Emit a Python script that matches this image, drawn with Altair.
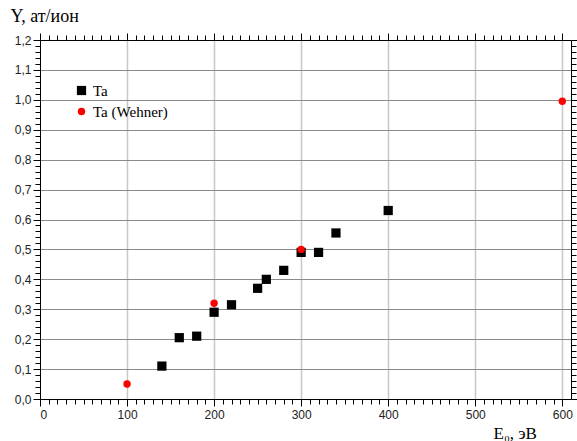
import altair as alt
import pandas as pd

ta_e = [140, 160, 180, 200, 220, 250, 260, 280, 300, 320, 340, 400]
ta_y = [0.11, 0.205, 0.21, 0.29, 0.315, 0.37, 0.40, 0.43, 0.49, 0.49, 0.555, 0.63]
wehner_e = [100, 200, 300, 600]
wehner_y = [0.05, 0.32, 0.50, 0.995]
series_names = ["Ta", "Ta (Wehner)"]
x_ticks = list(range(0, 601, 10))
y_ticks = [round(i * 0.02, 2) for i in range(0, 61)]

df = pd.DataFrame({
    "E": ta_e + wehner_e,
    "Y": ta_y + wehner_y,
    "s": [series_names[0]] * len(ta_e) + [series_names[1]] * len(wehner_e),
})

xmaj = "datum.value % 100 === 0"
ymaj = "abs(datum.value * 10 - round(datum.value * 10)) < 0.001"

xscale = alt.Scale(domain=[0, 610], nice=False, zero=False)
yscale = alt.Scale(domain=[0, 1.2], nice=False, zero=False)

lab_font = "Liberation Sans"
ser_font = "Liberation Serif"

leg = alt.Legend(title=None, orient="none", legendX=34, legendY=43,
                 labelFont=ser_font, labelFontSize=15, labelColor="black",
                 symbolSize=45, rowPadding=5, symbolStrokeWidth=0, labelOffset=4)

main = alt.Chart(df).mark_point(filled=True, opacity=1).encode(
    x=alt.X("E:Q", scale=xscale, axis=alt.Axis(
        values=x_ticks, orient="bottom",
        labelExpr=xmaj + " ? datum.label : ''",
        labelFont=lab_font, labelFontSize=12, labelColor="#222", labelPadding=3,
        tickSize={"condition": {"test": xmaj, "value": 7}, "value": 5},
        tickColor="black", domainColor="black",
        grid=True, gridColor="#c8c8c8", gridWidth=1.5,
        gridOpacity={"condition": {"test": xmaj + " && datum.value > 0", "value": 1}, "value": 0},
        title="E₀, эВ", titleFont=ser_font, titleFontSize=17, titleFontWeight="normal",
        titleColor="black", titleAnchor="start", titleAlign="left", titleBaseline="alphabetic",
        titleX=453, titleY=39,
    )),
    y=alt.Y("Y:Q", scale=yscale, axis=alt.Axis(
        values=y_ticks, orient="left",
        labelExpr=ymaj + " ? replace(format(datum.value, '.1f'), '.', ',') : ''",
        labelFont=lab_font, labelFontSize=12, labelColor="#222", labelPadding=2,
        tickSize={"condition": {"test": ymaj, "value": 7}, "value": 5},
        tickColor="black", domainColor="black",
        grid=True, gridColor="#8a8a8a", gridWidth=1.2,
        gridOpacity={"condition": {"test": ymaj + " && datum.value > 0", "value": 1}, "value": 0},
        title="Y, ат/ион", titleFont=ser_font, titleFontSize=18, titleFontWeight="normal",
        titleColor="black", titleAngle=0, titleAlign="left", titleBaseline="alphabetic",
        titleX=-30, titleY=-19,
    )),
    color=alt.Color("s:N", scale=alt.Scale(domain=series_names, range=["black", "#ff0000"]),
                    legend=leg),
    shape=alt.Shape("s:N", scale=alt.Scale(domain=series_names, range=["square", "circle"]),
                    legend=leg),
    size=alt.Size("s:N", scale=alt.Scale(domain=series_names, range=[85, 55]), legend=None),
)

mirror = alt.Chart(df).mark_point(opacity=0).encode(
    x=alt.X("E:Q", scale=xscale, axis=alt.Axis(
        values=x_ticks, orient="top", labels=False, title=None, grid=False,
        tickSize={"condition": {"test": xmaj, "value": 7}, "value": 5},
        tickColor="black", domainColor="black")),
    y=alt.Y("Y:Q", scale=yscale, axis=alt.Axis(
        values=y_ticks, orient="right", labels=False, title=None, grid=False,
        tickSize={"condition": {"test": ymaj, "value": 7}, "value": 5},
        tickColor="black", domainColor="black")),
)

chart = alt.layer(main, mirror).resolve_axis(x="independent", y="independent").properties(
    width=531, height=359,
    autosize=alt.AutoSizeParams(type="none"),
    padding={"left": 40, "top": 40, "right": 6, "bottom": 42},
    background="white",
).configure_view(stroke=None).configure_legend(labelFont=ser_font)

chart.save("out.html", embed_options={"renderer": "svg", "actions": False})
